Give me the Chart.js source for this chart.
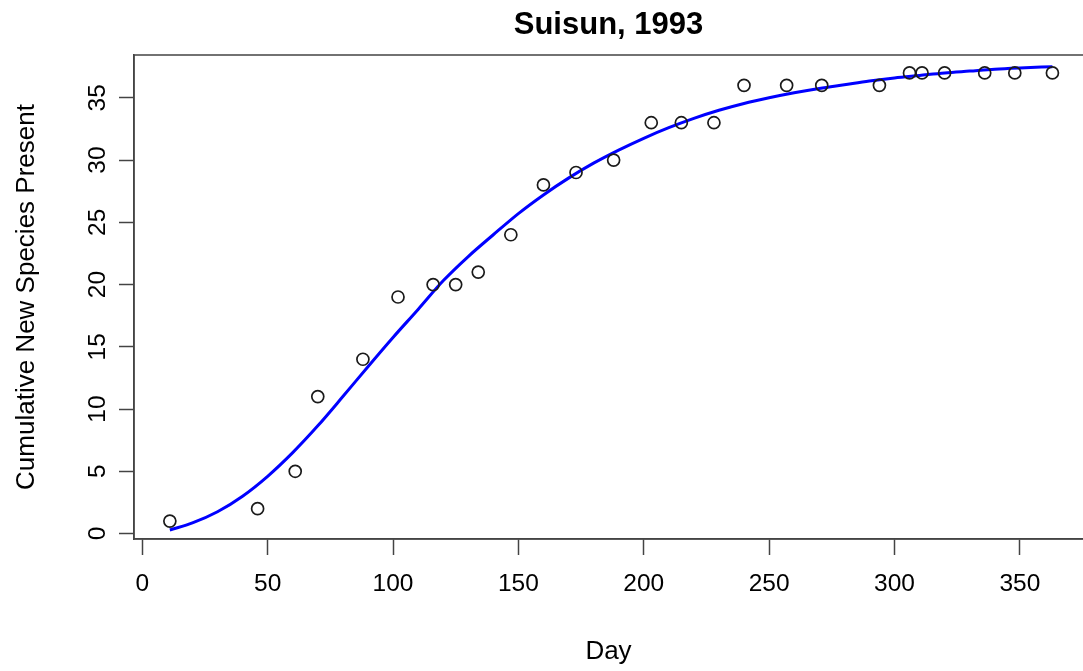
<!DOCTYPE html>
<html>
<head>
<meta charset="utf-8">
<script src="https://cdn.jsdelivr.net/npm/chart.js@4/dist/chart.umd.min.js"></script>
<style>
  html, body { margin: 0; padding: 0; background: #ffffff; }
  #wrap { width: 1083px; height: 671px; }
</style>
</head>
<body>
<div id="wrap"><canvas id="c" width="1083" height="671"></canvas></div>
<script>
// Observed cumulative count of new species by sampling day
const days = [11, 46, 61, 70, 88, 102, 116, 125, 134, 147, 160, 173, 188, 203, 215,
              228, 240, 257, 271, 294, 306, 311, 320, 336, 348, 363];
const species = [1, 2, 5, 11, 14, 19, 20, 20, 21, 24, 28, 29, 30, 33, 33,
                 33, 36, 36, 36, 36, 37, 37, 37, 37, 37, 37];

// Fitted accumulation curve
const fitDays = [11, 20, 30, 40, 50, 60, 70, 80, 90, 100, 110, 120, 130, 140, 150,
                 160, 170, 180, 190, 200, 210, 220, 230, 240, 250, 260, 270, 280,
                 290, 300, 310, 320, 330, 340, 350, 363];
const fitValues = [0.28, 0.85, 1.75, 3.0, 4.6, 6.5, 8.65, 11.0, 13.4, 15.75, 18.0, 20.3, 22.25, 24.0, 25.7,
                   27.2, 28.55, 29.75, 30.8, 31.75, 32.6, 33.35, 34.0, 34.55, 35.0, 35.4, 35.75, 36.05,
                   36.35, 36.6, 36.8, 37.0, 37.15, 37.3, 37.4, 37.5];

// Axis tick labels
const xTicks = [0, 50, 100, 150, 200, 250, 300, 350];
const yTicks = [0, 5, 10, 15, 20, 25, 30, 35];

const FONT = '"Liberation Sans", Arial, Helvetica, sans-serif';
const AXIS_COLOR = '#444444';

// Draws the frame around the plotting region
const frame = {
  id: 'frame',
  afterDraw(chart) {
    const a = chart.chartArea, ctx = chart.ctx;
    ctx.save();
    ctx.strokeStyle = AXIS_COLOR;
    ctx.lineWidth = 1.5;
    ctx.strokeRect(a.left, a.top, a.right - a.left + 4, a.bottom - a.top);
    ctx.restore();
  }
};

new Chart(document.getElementById('c'), {
  type: 'scatter',
  data: {
    datasets: [
      {
        type: 'line',
        label: 'fit',
        data: fitDays.map((d, i) => ({ x: d, y: fitValues[i] })),
        borderColor: '#0000ff',
        borderWidth: 3,
        pointRadius: 0,
        fill: false,
        cubicInterpolationMode: 'monotone',
        order: 2
      },
      {
        label: 'observed',
        data: days.map((d, i) => ({ x: d, y: species[i] })),
        pointStyle: 'circle',
        pointRadius: 6,
        pointBorderWidth: 1.7,
        pointBorderColor: '#1a1a1a',
        pointBackgroundColor: 'rgba(255,255,255,0)',
        borderColor: '#1a1a1a',
        backgroundColor: 'rgba(255,255,255,0)',
        order: 1
      }
    ]
  },
  options: {
    responsive: false,
    animation: false,
    layout: { padding: 0, autoPadding: false },
    plugins: {
      legend: { display: false },
      tooltip: { enabled: false },
      title: {
        display: true,
        text: 'Suisun, 1993',
        fullSize: false,
        color: '#000000',
        font: { family: FONT, size: 31, weight: 'bold', lineHeight: 1.2 },
        padding: { top: 7, bottom: 10.8 }
      }
    },
    scales: {
      x: {
        type: 'linear',
        min: -3.3,
        max: 375.2,
        afterBuildTicks(scale) { scale.ticks = xTicks.map(v => ({ value: v })); },
        afterFit(scale) { scale.height = 132; },
        grid: { drawOnChartArea: false, drawTicks: true, tickLength: 16, tickColor: AXIS_COLOR, tickWidth: 1.5 },
        border: { display: true, color: AXIS_COLOR, width: 1.5 },
        ticks: {
          color: '#000000',
          padding: 15,
          maxRotation: 0,
          autoSkip: false,
          font: { family: FONT, size: 24.5 }
        },
        title: {
          display: true,
          text: 'Day',
          color: '#000000',
          font: { family: FONT, size: 26 },
          padding: { top: 0, bottom: 3.5 }
        }
      },
      y: {
        type: 'linear',
        min: -0.44,
        max: 38.44,
        afterBuildTicks(scale) { scale.ticks = yTicks.map(v => ({ value: v })); },
        afterFit(scale) { scale.width = 134; },
        grid: { drawOnChartArea: false, drawTicks: true, tickLength: 15, tickColor: AXIS_COLOR, tickWidth: 1.5 },
        border: { display: true, color: AXIS_COLOR, width: 1.5 },
        ticks: {
          color: '#000000',
          padding: 7,
          minRotation: 90,
          maxRotation: 90,
          crossAlign: 'center',
          autoSkip: false,
          font: { family: FONT, size: 24.5 }
        },
        title: {
          display: true,
          text: 'Cumulative New Species Present',
          color: '#000000',
          font: { family: FONT, size: 26 },
          padding: { top: 11.5, bottom: 0 }
        }
      }
    }
  },
  plugins: [frame]
});
</script>
</body>
</html>
